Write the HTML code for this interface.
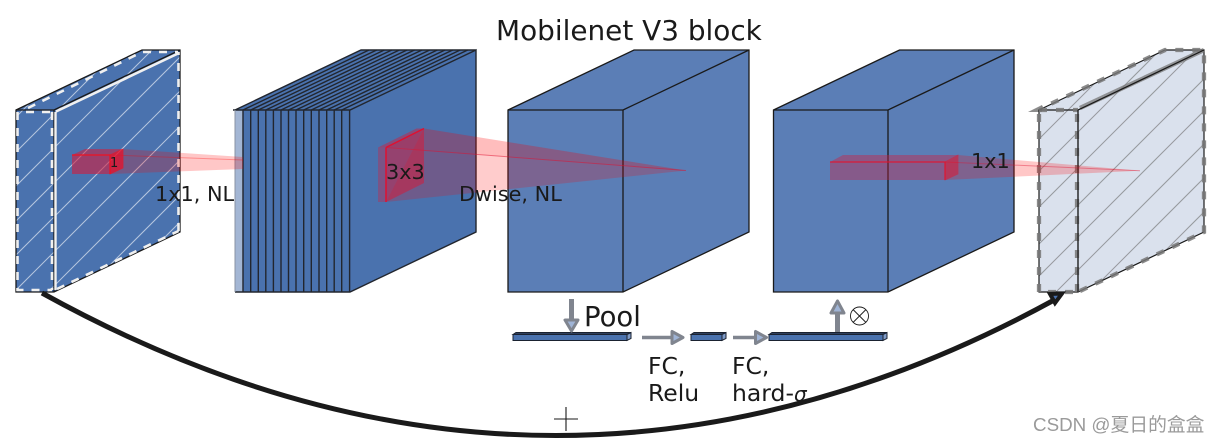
<!DOCTYPE html>
<html><head><meta charset="utf-8"><style>
html,body{margin:0;padding:0;background:#fff;width:1220px;height:444px;overflow:hidden}
svg{display:block}
text{font-family:"DejaVu Sans",sans-serif;fill:#1a1a1a}
</style></head><body>
<svg width="1220" height="444" viewBox="0 0 1220 444" xmlns="http://www.w3.org/2000/svg">
<defs>
<clipPath id="c1"><polygon points="16,110 142,50 180,50 180,232 54,292 16,292"/></clipPath>
<clipPath id="c5"><polygon points="1039,110 1165,50 1204,50 1204,232 1078,292 1039,292"/></clipPath>
</defs>

<text x="496" y="40" font-size="27.900">Mobilenet V3 block</text>

<!-- block 1 -->
<polygon points="16,110 142,50 180,50 180,232 54,292 16,292" fill="#4a72ae"/>
<g clip-path="url(#c1)" stroke="#fff" stroke-width="1" opacity=".6">
<line x1="0" y1="133" x2="133" y2="0"/><line x1="0" y1="168" x2="168" y2="0"/><line x1="0" y1="202" x2="202" y2="0"/><line x1="0" y1="237" x2="237" y2="0"/><line x1="0" y1="271" x2="271" y2="0"/><line x1="0" y1="306" x2="306" y2="0"/><line x1="0" y1="340" x2="340" y2="0"/><line x1="0" y1="375" x2="375" y2="0"/><line x1="0" y1="402" x2="402" y2="0"/>
</g>
<g fill="none" stroke="#1a1a1a" stroke-width="1.300">
<polygon points="16,110 142,50 180,50 180,232 54,292 16,292"/>
<path d="M16,110H54V292M54,110L180,50"/>
</g>
<g fill="none" stroke="#f0f0f0" stroke-width="2.600" stroke-dasharray="8 8">
<path d="M17.500,112V290H52"/><path d="M26,112H52"/><path d="M52,112V290"/>
<path d="M57,289L178.500,231"/><path d="M178.500,231V52"/><path d="M28,108L142,52H178"/>
</g>
<path d="M55.500,112V290" stroke="#f0f0f0" stroke-width="2.400" fill="none"/>
<path d="M56,111.500L178,53.500" stroke="#f0f0f0" stroke-width="2.600" fill="none"/>

<!-- block 2 -->
<polygon points="235,110 361,50 476,50 476,232 350,292 235,292" fill="#4a72ae"/>
<polygon points="235,110 243,110 243,292 235,292" fill="#a3b6d4"/>
<g stroke="#22262e" stroke-width="1.400" fill="none">
<path d="M243,110V292M250.700,110V292M258.300,110V292M265.800,110V292M273.400,110V292M281,110V292M288.500,110V292M296,110V292M303.700,110V292M311.300,110V292M319,110V292M326.700,110V292M334.200,110V292M341.700,110V292M349.600,110V292"/>
<path d="M243,110L369,50M250.700,110L376.700,50M258.300,110L384.300,50M265.800,110L391.800,50M273.400,110L399.400,50M281,110L407,50M288.500,110L414.500,50M296,110L422,50M303.700,110L429.700,50M311.300,110L437.300,50M319,110L445,50M326.700,110L452.700,50M334.200,110L460.200,50M341.700,110L467.700,50"/>
<path d="M233,110H350L476,50V232L350,292H235M235,110L361,50H476"/>
</g>
<path d="M235,110V292" stroke="#8a93a3" stroke-width="1"/>

<!-- red 1 cone -->
<polygon points="110,155 123,149 243,157 243,169 110,174" fill="#ff0000" opacity=".22"/>
<line x1="110" y1="155" x2="243" y2="160" stroke="#ff0000" stroke-width="1" opacity=".3"/>

<!-- block 3 -->
<polygon points="508,110 634,50 749,50 749,232 623,292 508,292" fill="#5b7eb6" stroke="#1a1a1a" stroke-width="1.300"/>
<path d="M508,110H623V292M623,110L749,50" fill="none" stroke="#1a1a1a" stroke-width="1.300"/>

<!-- block 4 -->
<polygon points="773.500,110 899.500,50 1014,50 1014,232 888,292 773.500,292" fill="#5b7eb6" stroke="#1a1a1a" stroke-width="1.300"/>
<path d="M773.500,110H888V292M888,110L1014,50" fill="none" stroke="#1a1a1a" stroke-width="1.300"/>

<!-- block 5 -->
<polygon points="1039,110 1165,50 1204,50 1204,232 1078,292 1039,292" fill="#dae1ed"/>
<g clip-path="url(#c5)" stroke="#6a6a6a" stroke-width="1" opacity=".6">
<line x1="1000" y1="144" x2="1144" y2="0"/><line x1="1000" y1="178" x2="1178" y2="0"/><line x1="1000" y1="210" x2="1210" y2="0"/><line x1="1000" y1="246" x2="1246" y2="0"/><line x1="1000" y1="283" x2="1283" y2="0"/><line x1="1000" y1="315" x2="1315" y2="0"/><line x1="1000" y1="348" x2="1348" y2="0"/><line x1="1000" y1="382" x2="1382" y2="0"/><line x1="1000" y1="416" x2="1416" y2="0"/>
</g>
<polygon points="1028,112 1042,105 1042,112" fill="#8c8c8c"/>
<g fill="none" stroke="#1a1a1a" stroke-width="1.200">
<polygon points="1039,110 1165,50 1204,50 1204,232 1078,292 1039,292"/>
<path d="M1039,110H1078V292M1078,110L1204,50"/>
</g>
<g fill="none" stroke="#777" stroke-width="4.300" stroke-dasharray="8 9" opacity=".85">
<path d="M1039,114V292H1078"/><path d="M1077,114V292"/><path d="M1039,110H1078"/>
<path d="M1080,291L1204,232V50H1165L1042,108"/>
</g>
<path d="M1080,108L1204,50" stroke="#777" stroke-width="4.500" fill="none" opacity=".75"/>
<path d="M1078,110L1204,50M1078,110V292" stroke="#1a1a1a" stroke-width="1.200" fill="none"/>

<!-- red small box 1 -->
<polygon points="72,155 85,149 123,149 110,155" fill="#dc1432" opacity=".5"/>
<polygon points="72,155 110,155 110,174 72,174" fill="#d41c3c" opacity=".6"/>
<path d="M72,155H110V174" fill="none" stroke="#ee1122" stroke-width="1.200"/>
<polygon points="110,155 123,149 123,168 110,174" fill="#e8102a" opacity=".75" stroke="#ee1122" stroke-width=".8"/>
<text x="110" y="167" font-size="13">1</text>

<!-- 3x3 -->
<polygon points="424,128.500 686,170.500 386,202" fill="#ff0000" opacity=".2"/>
<polygon points="386,147.500 424,128.500 686,170.500" fill="#ff0000" opacity=".07"/>
<line x1="386" y1="147.500" x2="686" y2="170.500" stroke="#e01030" stroke-width="1" opacity=".5"/>
<polygon points="378,147.500 386,147.500 386,202 378,202" fill="#d41c3c" opacity=".35"/>
<polygon points="378,147.500 416.500,128.500 424,128.500 386,147.500" fill="#d41c3c" opacity=".45"/>
<polygon points="386,147.500 424,128.500 424,183 386,202" fill="#d41c3c" opacity=".55"/>
<path d="M386,147.500V202M386,147.500L424,128.500" stroke="#e01030" stroke-width="1.500" fill="none"/>
<text x="386" y="179" font-size="20.800">3x3</text>

<!-- 1x1 -->
<polygon points="945,162 958,155 1140,170.700 945,180" fill="#ff0000" opacity=".22"/>
<line x1="945" y1="162" x2="1140" y2="170.700" stroke="#e01030" stroke-width="1" opacity=".4"/>
<polygon points="830,162 843,155 958,155 945,162" fill="#d41c3c" opacity=".4"/>
<polygon points="830,162 945,162 945,180 830,180" fill="#d41c3c" opacity=".36"/>
<path d="M830,162H945V180" fill="none" stroke="#e8102a" stroke-width="1.200" opacity=".85"/>
<polygon points="945,162 958,155 958,174 945,180" fill="#e8102a" opacity=".5" stroke="#e8102a" stroke-width=".8"/>
<text x="971" y="168" font-size="20.800">1x1</text>

<text x="155" y="201" font-size="20.800">1x1, NL</text>
<text x="459" y="201" font-size="20.800">Dwise, NL</text>

<!-- flat blocks -->
<g stroke="#1a2230" stroke-width="1">
<polygon points="513,334.500 627,334.500 627,340.500 513,340.500" fill="#4a72ae"/>
<polygon points="513,334.500 516,332.500 631,332.500 627,334.500" fill="#2f3f5c"/>
<polygon points="627,334.500 631,332.500 631,338.500 627,340.500" fill="#7f9bc7"/>
<polygon points="691,334.500 722,334.500 722,340.500 691,340.500" fill="#4a72ae"/>
<polygon points="691,334.500 694,332.500 726,332.500 722,334.500" fill="#2f3f5c"/>
<polygon points="722,334.500 726,332.500 726,338.500 722,340.500" fill="#7f9bc7"/>
<polygon points="769,334.500 883,334.500 883,340.500 769,340.500" fill="#4a72ae"/>
<polygon points="769,334.500 772,332.500 887,332.500 883,334.500" fill="#2f3f5c"/>
<polygon points="883,334.500 887,332.500 887,338.500 883,340.500" fill="#7f9bc7"/>
</g>

<!-- arrows -->
<g stroke="#80858f" fill="#9fb4d6" stroke-width="3" stroke-linejoin="round">
<line x1="571.500" y1="299" x2="571.500" y2="319" stroke-width="5"/>
<polygon points="565,320 578,320 571.500,331"/>
<line x1="642" y1="337.500" x2="672" y2="337.500" stroke-width="3.500"/>
<polygon points="672,331.500 672,343.500 683,337.500"/>
<line x1="733" y1="337.500" x2="756" y2="337.500" stroke-width="3.500"/>
<polygon points="755.500,331.500 755.500,343.500 766.500,337.500"/>
<line x1="837.500" y1="332" x2="837.500" y2="313" stroke-width="5"/>
<polygon points="831,313 844,313 837.500,301"/>
</g>

<text x="584" y="326" font-size="27.500">Pool</text>
<text x="648" y="374" font-size="23.500">FC,</text>
<text x="648" y="401" font-size="23.500">Relu</text>
<text x="732" y="374" font-size="23.500">FC,</text>
<text x="732" y="401" font-size="23.500">hard-<tspan font-style="italic" font-size="20">σ</tspan></text>

<!-- otimes -->
<g fill="none" stroke="#1a1a1a" stroke-width=".9">
<circle cx="859.500" cy="316" r="9"/>
<path d="M853,309.500L866,322.500M866,309.500L853,322.500"/>
</g>

<!-- plus -->
<path d="M566,407V431M554,419H578" stroke="#1a1a1a" stroke-width="1.100" fill="none"/>

<!-- curve -->
<path d="M42,293Q552,575 1056,299" fill="none" stroke="#1a1a1a" stroke-width="5"/>
<polygon points="1050,294 1062,293.500 1055,303" fill="#4a72ae" stroke="#1a1a1a" stroke-width="4"/>

<text x="1033" y="431" font-size="18.800" style="font-family:'Liberation Sans','Noto Sans CJK SC',sans-serif;fill:#9a9a9a">CSDN @夏日的盒盒</text>
</svg>
</body></html>
